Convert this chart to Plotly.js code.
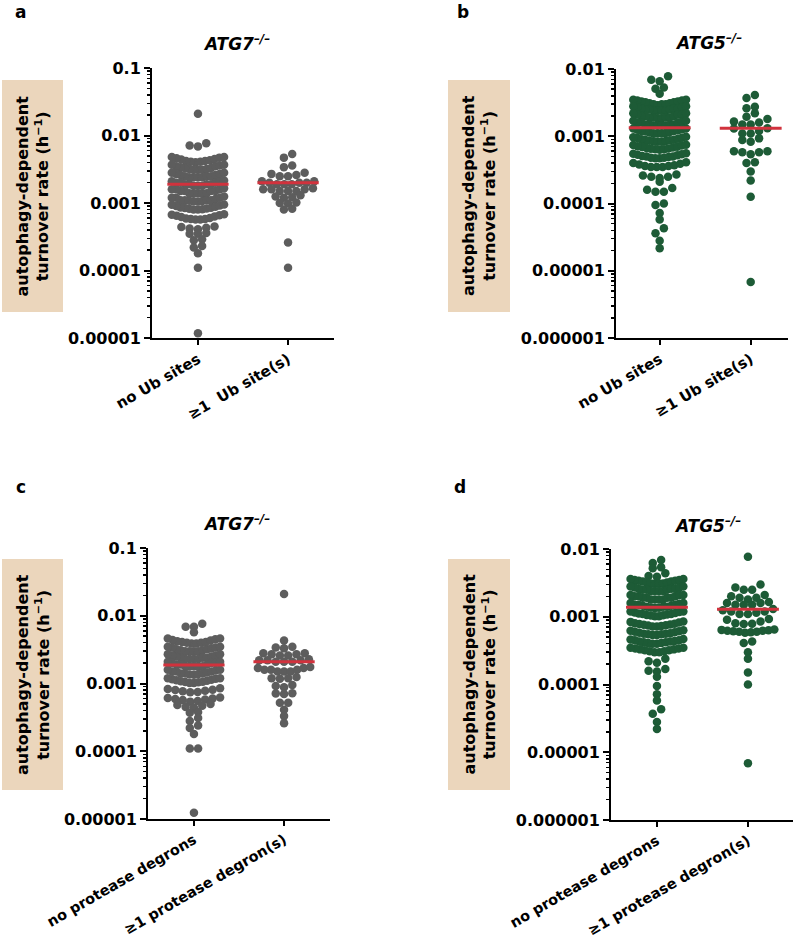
<!DOCTYPE html>
<html><head><meta charset="utf-8">
<script src="https://cdn.plot.ly/plotly-3.0.1.min.js"></script>
<style>html,body{margin:0;padding:0;background:#fff}#chart{width:800px;height:942px}</style>
</head><body><div id="chart"></div>
<script>
// ---------- category labels ----------
const catsUbA = ['no Ub sites', '\u22651\u00a0 Ub site(s)'];
const catsUbB = ['no Ub sites', '\u22651 Ub site(s)'];
const catsDegron = ['no protease degrons', '\u22651 protease degron(s)'];

// ---------- y tick labels ----------
const yTicksATG7 = [0.00001, 0.0001, 0.001, 0.01, 0.1];
const yTextATG7 = ['0.00001', '0.0001', '0.001', '0.01', '0.1'];
const yTicksATG5 = [0.000001, 0.00001, 0.0001, 0.001, 0.01];
const yTextATG5 = ['0.000001', '0.00001', '0.0001', '0.001', '0.01'];

// ---------- data (turnover rates, h^-1) ----------
const atg7NoUb = [
  0.021,
  0.0077, 0.0071, 0.0069,
  0.0048, 0.0048, 0.0047, 0.0046, 0.0045, 0.0044, 0.0043, 0.0042, 0.0042, 0.0041, 0.0041, 0.0040,
  0.0037, 0.0037, 0.0036, 0.0035, 0.0035, 0.0034, 0.0033, 0.0033, 0.0032, 0.0032, 0.0031, 0.0031, 0.0031,
  0.0028, 0.0028, 0.0027, 0.0027, 0.0026, 0.0026, 0.0025, 0.0025, 0.0025, 0.0024, 0.0024, 0.0024, 0.0024,
  0.00215, 0.0021, 0.0021, 0.0020, 0.0020, 0.0020, 0.0019, 0.0019, 0.0019, 0.0019, 0.0018, 0.0018, 0.0018,
  0.00165, 0.0016, 0.0016, 0.0016, 0.0015, 0.0015, 0.0015, 0.0015, 0.0014, 0.0014, 0.0014, 0.0014, 0.0014,
  0.00125, 0.0012, 0.0012, 0.0012, 0.00115, 0.0011, 0.0011, 0.0011, 0.0011, 0.00108, 0.00107, 0.00106, 0.00105,
  0.00095, 0.00094, 0.00092, 0.0009, 0.00088, 0.00086, 0.00085, 0.00084, 0.00083, 0.00082, 0.00081, 0.0008, 0.0008,
  0.00068, 0.00067, 0.00066, 0.00065, 0.00063, 0.00062, 0.0006, 0.00059, 0.00058, 0.00058, 0.00057, 0.00057,
  0.00045, 0.00044, 0.00043, 0.00042, 0.00041,
  0.00036, 0.00035, 0.00035,
  0.00029, 0.00028,
  0.00023, 0.00022,
  0.00018,
  0.00011,
  0.0000118
];
const atg7Ub = [
  0.0053, 0.0047,
  0.0036, 0.0034,
  0.0028, 0.0027, 0.0026, 0.0025, 0.0025,
  0.0021, 0.0021, 0.0020, 0.0020, 0.0020, 0.0019, 0.0019, 0.0019,
  0.00165, 0.0016, 0.0016, 0.0016, 0.0015, 0.0015, 0.0015,
  0.0013, 0.00125, 0.00122, 0.0012,
  0.00102, 0.001, 0.00098,
  0.00082, 0.0008,
  0.00026,
  0.00011
];
const atg5NoUb = [
  0.0078, 0.0069, 0.0066,
  0.0053, 0.0051,
  0.0043,
  0.0035, 0.0035, 0.0034, 0.0034, 0.0033, 0.0033, 0.0032, 0.0032, 0.0031, 0.0031, 0.0030, 0.0030, 0.0030, 0.0029,
  0.0028, 0.0028, 0.0027, 0.0027, 0.0026, 0.0026, 0.0026, 0.0025, 0.0025, 0.0025, 0.0024, 0.0024, 0.0024, 0.0024,
  0.0022, 0.0022, 0.0021, 0.0021, 0.0021, 0.0020, 0.0020, 0.0020, 0.0019, 0.0019, 0.0019, 0.0019, 0.00185, 0.00185,
  0.0017, 0.0017, 0.00165, 0.0016, 0.0016, 0.0016, 0.0015, 0.0015, 0.0015, 0.0015, 0.00145, 0.00145, 0.00143, 0.00143,
  0.0013, 0.0013, 0.00127, 0.00125, 0.00123, 0.0012, 0.0012, 0.00118, 0.00116, 0.00114, 0.00112, 0.0011, 0.0011, 0.0011,
  0.00098, 0.00097, 0.00095, 0.00094, 0.00092, 0.0009, 0.00089, 0.00088, 0.00087, 0.00086, 0.00085, 0.00084, 0.00083, 0.00083,
  0.00075, 0.00074, 0.00073, 0.00071, 0.0007, 0.00069, 0.00068, 0.00067, 0.00066, 0.00065, 0.00064, 0.00064, 0.00063,
  0.00056, 0.00055, 0.00054, 0.00053, 0.00052, 0.00051, 0.0005, 0.0005, 0.00049, 0.00048, 0.00048, 0.00047, 0.00047,
  0.00041, 0.0004, 0.00039, 0.00038, 0.00037, 0.00036, 0.00036, 0.00035, 0.00035, 0.00035,
  0.00027, 0.00026, 0.00025, 0.00025, 0.00024,
  0.00021,
  0.00017, 0.00016, 0.00015, 0.00015,
  0.0001, 0.000095,
  0.000072,
  0.000058,
  0.000043, 0.000036,
  0.000028,
  0.0000216
];
const atg5Ub = [
  0.0041, 0.0037,
  0.00275, 0.0026,
  0.0022, 0.00195,
  0.0018, 0.00165, 0.0016, 0.0015, 0.0015,
  0.00132, 0.0013, 0.0012, 0.0011, 0.0011,
  0.00093, 0.00088, 0.00083,
  0.0006, 0.0006, 0.00058, 0.00058, 0.00054,
  0.00041, 0.0004,
  0.0003,
  0.00022,
  0.000126,
  0.0000068
];
const atg7NoDegron = [
  0.0076, 0.0069, 0.0069,
  0.0057,
  0.0046, 0.0046, 0.0045, 0.0044, 0.0043, 0.0042, 0.0041, 0.0041, 0.004, 0.004, 0.0039, 0.0039,
  0.0035, 0.0035, 0.0034, 0.0034, 0.0033, 0.0032, 0.0032, 0.0031, 0.0031, 0.003, 0.003, 0.003, 0.003,
  0.0027, 0.0027, 0.0026, 0.0026, 0.0025, 0.0025, 0.0024, 0.0024, 0.0024, 0.0023, 0.0023, 0.0023, 0.0023,
  0.0021, 0.0021, 0.002, 0.002, 0.002, 0.0019, 0.0019, 0.0019, 0.0018, 0.0018, 0.0018, 0.0018, 0.0018,
  0.0016, 0.0016, 0.00155, 0.0015, 0.0015, 0.0015, 0.00145, 0.0014, 0.0014, 0.0014, 0.00138, 0.00136, 0.00135,
  0.0012, 0.0012, 0.00118, 0.00116, 0.00114, 0.00112, 0.0011, 0.00108, 0.00106, 0.00105, 0.00104, 0.00102, 0.00102,
  0.00085, 0.00083, 0.00081, 0.0008, 0.00078, 0.00077, 0.00075, 0.00074,
  0.00062, 0.00061, 0.0006, 0.00059, 0.00058, 0.00057, 0.00055, 0.00054,
  0.0005, 0.00048, 0.00047, 0.00045, 0.00044,
  0.00038, 0.00037,
  0.00031, 0.00028,
  0.00024, 0.00022,
  0.00018,
  0.00011, 0.00011,
  0.0000124
];
const atg7Degron = [
  0.021,
  0.0043,
  0.0035, 0.0034, 0.0033,
  0.0028, 0.0028, 0.0027, 0.0027, 0.0026, 0.0026,
  0.00228, 0.0022, 0.0022, 0.0022, 0.0021, 0.0021, 0.0021,
  0.00175, 0.0017, 0.0017, 0.0016, 0.0016, 0.0016, 0.0015, 0.0015, 0.0015,
  0.00125, 0.0012, 0.0012, 0.00118,
  0.00095, 0.00092, 0.00088,
  0.00072, 0.00071, 0.0007,
  0.00052, 0.00052,
  0.00041,
  0.00033,
  0.00026
];
const atg5NoDegron = [
  0.0069, 0.0062,
  0.0054, 0.0052,
  0.0044, 0.004, 0.0039,
  0.0036, 0.0036, 0.0035, 0.0035, 0.0034, 0.0034, 0.0033, 0.0033, 0.0032, 0.0032, 0.0031, 0.0031, 0.0031, 0.0031,
  0.0028, 0.0028, 0.0027, 0.0027, 0.0026, 0.0026, 0.0026, 0.0025, 0.0025, 0.0025, 0.0024, 0.0024, 0.0024, 0.0024,
  0.0021, 0.0021, 0.0021, 0.002, 0.002, 0.002, 0.0019, 0.0019, 0.0019, 0.0019, 0.0018, 0.0018, 0.0018, 0.0018,
  0.0016, 0.0016, 0.00155, 0.0015, 0.0015, 0.0015, 0.00145, 0.00145, 0.0014, 0.0014, 0.0014, 0.00137, 0.00136, 0.00135,
  0.0012, 0.0012, 0.00118, 0.00116, 0.00114, 0.00112, 0.0011, 0.0011, 0.00108, 0.00106, 0.00105, 0.00104, 0.00102, 0.00102,
  0.00085, 0.00084, 0.00082, 0.0008, 0.00079, 0.00078, 0.00077, 0.00076, 0.00075, 0.00074, 0.00073, 0.00072, 0.00072,
  0.00063, 0.00062, 0.00061, 0.0006, 0.00059, 0.00058, 0.00057, 0.00056, 0.00056, 0.00055, 0.00055, 0.00054, 0.00054,
  0.00047, 0.00046, 0.00045, 0.00045, 0.00044, 0.00043, 0.00043, 0.00042, 0.00042, 0.00041, 0.00041, 0.0004, 0.0004,
  0.00035, 0.00035, 0.00034, 0.00034, 0.00033, 0.00033, 0.00032, 0.00032, 0.00031, 0.00031, 0.0003, 0.0003,
  0.00024, 0.00022, 0.00021,
  0.00017, 0.00016, 0.000155,
  0.00013,
  0.000095,
  0.000072,
  0.000058,
  0.000043, 0.000037,
  0.000028,
  0.000022
];
const atg5Degron = [
  0.0077,
  0.003, 0.0027, 0.0025, 0.0025,
  0.0021, 0.002, 0.0019, 0.0019, 0.0018,
  0.00165, 0.0016, 0.0016, 0.0015, 0.0015, 0.0015,
  0.0013, 0.00125, 0.0012, 0.0012, 0.00115, 0.0011, 0.0011,
  0.00093, 0.0009, 0.00085, 0.0008, 0.00079, 0.00078,
  0.00065, 0.00064, 0.00063, 0.00062, 0.00062, 0.00061, 0.0006, 0.0006, 0.00059, 0.00058,
  0.00043, 0.00041,
  0.0003,
  0.00024,
  0.00015,
  0.0001,
  0.0000069
];

// medians (red lines)
const mediansA = [0.0019, 0.002];
const mediansB = [0.00134, 0.00131];
const mediansC = [0.00187, 0.0021];
const mediansD = [0.00138, 0.00129];

// ---------- styles ----------
const GRAY = '#5d5d5d', GREEN = '#1d5b36', RED = '#d1323d', BOX = '#ebd6bc';
const FONT = 'DejaVu Sans, Arial, sans-serif';

// beeswarm layout in rows (Prism style): lowest value at the centre of a row
function swarm(values, center) {
  const H = 0.085, HALF = 0.29, STEP = 0.092;
  const pts = values.map(v => ({v, l: Math.log10(v)})).sort((a, b) => b.l - a.l);
  const xs = [], ys = [];
  let i = 0;
  while (i < pts.length) {
    let j = i;
    while (j < pts.length && pts[i].l - pts[j].l <= H + 1e-9) j++;
    const row = pts.slice(i, j).sort((a, b) => a.l - b.l);
    const n = row.length;
    const step = n > 1 ? Math.min(STEP, 2 * HALF / (n - 1)) : 0;
    const slots = [];
    for (let k = 0; k < n; k++) slots.push((k - (n - 1) / 2) * step);
    slots.sort((a, b) => Math.abs(a) - Math.abs(b) || a - b);
    row.forEach((p, k) => { xs.push(center + slots[k]); ys.push(p.v); });
    i = j;
  }
  return {xs, ys};
}

const traces = [];
function addPanel(idx, g1, g2, meds, color) {
  const xa = 'x' + (idx > 1 ? idx : ''), ya = 'y' + (idx > 1 ? idx : '');
  [g1, g2].forEach((g, c) => {
    const s = swarm(g, c);
    traces.push({type: 'scatter', mode: 'markers', x: s.xs, y: s.ys, xaxis: xa, yaxis: ya,
      marker: {size: 8.5, color: color, line: {width: 0}}, hoverinfo: 'skip', showlegend: false, cliponaxis: false});
  });
  meds.forEach((m, c) => {
    traces.push({type: 'scatter', mode: 'lines', x: [c - 0.34, c + 0.34], y: [m, m], xaxis: xa, yaxis: ya,
      line: {color: RED, width: 3}, hoverinfo: 'skip', showlegend: false});
  });
}
addPanel(1, atg7NoUb, atg7Ub, mediansA, GRAY);
addPanel(2, atg5NoUb, atg5Ub, mediansB, GREEN);
addPanel(3, atg7NoDegron, atg7Degron, mediansC, GRAY);
addPanel(4, atg5NoDegron, atg5Degron, mediansD, GREEN);

function minorVals(lo, hi) {
  const out = [];
  for (let e = lo; e < hi; e++) for (let m = 2; m <= 9; m++) out.push(m * Math.pow(10, e));
  return out;
}
const W = 800, Hh = 942;
const yTickFont = {family: FONT, size: 16, color: '#000', weight: 'bold'};
const xTickFont = {family: FONT, size: 15, color: '#000', weight: 'bold'};
const xTickFontLong = {family: FONT, size: 14.5, color: '#000', weight: 'bold'};
function xAxis(px0, px1, range, anchor, text, font) {
  return {domain: [px0 / W, px1 / W], range: range, anchor: anchor, tickmode: 'array', tickvals: [0, 1], ticktext: text,
    tickangle: -30, ticks: 'outside', ticklen: 5, tickwidth: 2, tickcolor: '#000', showline: true, linewidth: 2,
    linecolor: '#000', showgrid: false, zeroline: false, tickfont: font, fixedrange: true};
}
function yAxis(py0, py1, range, anchor, vals, text) {
  return {type: 'log', domain: [1 - py1 / Hh, 1 - py0 / Hh], range: range, anchor: anchor, tickmode: 'array',
    tickvals: vals, ticktext: text, ticks: 'outside', ticklen: 6, tickwidth: 2, tickcolor: '#000',
    minor: {tickmode: 'array', tickvals: minorVals(range[0], range[1]), ticks: 'outside', ticklen: 3, tickwidth: 1.5, tickcolor: '#000', showgrid: false},
    showline: true, linewidth: 2, linecolor: '#000', showgrid: false, zeroline: false, tickfont: yTickFont, fixedrange: true};
}

const layout = {
  width: W, height: Hh, margin: {l: 0, r: 0, t: 0, b: 0}, paper_bgcolor: '#fff', plot_bgcolor: 'rgba(0,0,0,0)',
  showlegend: false, font: {family: FONT, color: '#000'},
  xaxis: xAxis(152, 334, [-0.51, 1.51], 'y', catsUbA, xTickFont),
  yaxis: yAxis(68, 338, [-5, -1], 'x', yTicksATG7, yTextATG7),
  xaxis2: xAxis(616, 788, [-0.48, 1.41], 'y2', catsUbB, xTickFont),
  yaxis2: yAxis(69, 338, [-6, -2], 'x2', yTicksATG5, yTextATG5),
  xaxis3: xAxis(148, 330, [-0.51, 1.51], 'y3', catsDegron, xTickFontLong),
  yaxis3: yAxis(548, 819, [-5, -1], 'x3', yTicksATG7, yTextATG7),
  xaxis4: xAxis(611, 793, [-0.505, 1.495], 'y4', catsDegron, xTickFontLong),
  yaxis4: yAxis(549, 820, [-6, -2], 'x4', yTicksATG5, yTextATG5),
  shapes: [], annotations: []
};

const ylabel = 'autophagy-dependent<br>turnover rate (h<sup>\u22121</sup>)';
const boxes = [[2, 63, 80, 312], [448, 510, 80, 312], [2, 63, 559, 790], [448, 510, 559, 790]];
boxes.forEach(b => {
  layout.shapes.push({type: 'rect', xref: 'paper', yref: 'paper', x0: b[0] / W, x1: b[1] / W,
    y0: 1 - b[3] / Hh, y1: 1 - b[2] / Hh, fillcolor: BOX, line: {width: 0}, layer: 'below'});
  layout.annotations.push({xref: 'paper', yref: 'paper', x: (b[0] + b[1]) / 2 / W, y: 1 - (b[2] + b[3]) / 2 / Hh,
    xanchor: 'center', yanchor: 'middle', text: ylabel, textangle: -90, showarrow: false,
    font: {family: FONT, size: 16, color: '#000', weight: 'bold'}});
});
const titles = [['ATG7', 236, 43], ['ATG5', 708, 42], ['ATG7', 236, 523], ['ATG5', 707, 525]];
titles.forEach(t => {
  layout.annotations.push({xref: 'paper', yref: 'paper', x: t[1] / W, y: 1 - t[2] / Hh, xanchor: 'center', yanchor: 'middle',
    text: '<i>' + t[0] + '<sup>\u2013/\u2013</sup></i>', showarrow: false,
    font: {family: FONT, size: 17, color: '#000', weight: 'bold'}});
});
const letters = [['a', 20, 12], ['b', 463, 12], ['c', 21, 487], ['d', 460, 487]];
letters.forEach(t => {
  layout.annotations.push({xref: 'paper', yref: 'paper', x: t[1] / W, y: 1 - t[2] / Hh, xanchor: 'center', yanchor: 'middle',
    text: t[0], showarrow: false, font: {family: FONT, size: 17, color: '#000', weight: 'bold'}});
});

Plotly.newPlot('chart', traces, layout, {staticPlot: true});
</script>
</body></html>
